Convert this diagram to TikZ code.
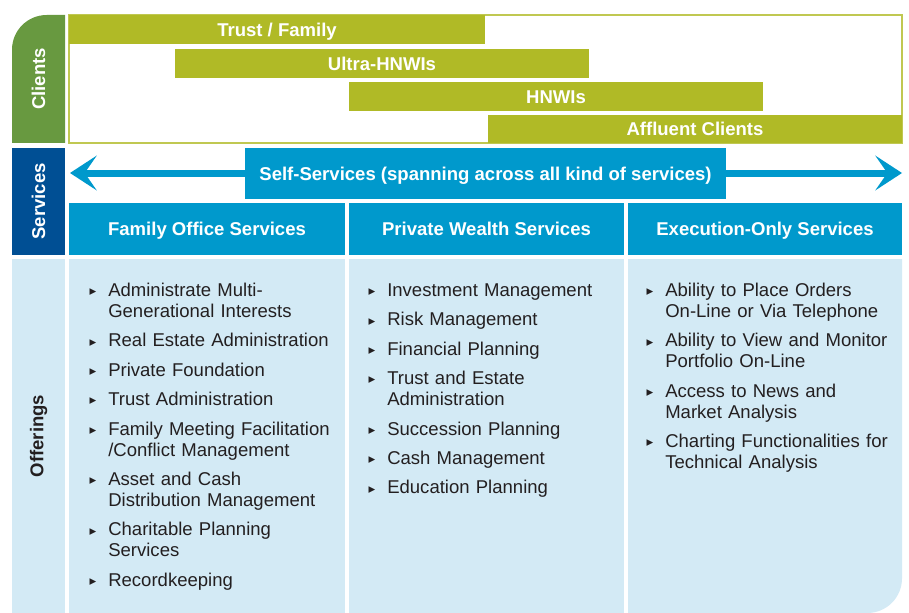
\documentclass[tikz,border=0pt]{standalone}
\usepackage{fontspec}
\setmainfont{Liberation Sans}
\newfontfamily\symfont{DejaVu Sans}
\usetikzlibrary{positioning,fit,arrows.meta}

\definecolor{clientgreen}{RGB}{104,153,64}
\definecolor{barolive}{RGB}{176,186,38}
\definecolor{servnavy}{RGB}{0,79,148}
\definecolor{servblue}{RGB}{0,153,204}
\definecolor{offerpale}{RGB}{211,234,245}
\definecolor{itemgrey}{RGB}{35,31,32}

% bullet in front of the first line of an offering
\newcommand{\offermark}{\llap{\raisebox{0.6pt}{\symfont\fontsize{10}{10}\selectfont ▸}\hspace{9pt}}}
\newcommand{\offer}[1]{\noindent\offermark\strut#1\strut}

\begin{document}
\begin{tikzpicture}[x=0.75pt,y=-0.75pt,
    boldtext/.style={font=\bfseries\fontsize{13.9}{16}\selectfont},
    tablabel/.style={boldtext,rotate=90},
    bar/.style={fill=barolive,inner sep=0pt},
    head/.style={fill=servblue,inner sep=0pt},
    inside/.style={boldtext,text=white,text height=10pt,text depth=0pt},
    column/.style={fill=offerpale,inner sep=0pt},
    item/.style={inner sep=0pt,text width=190pt,align=left,text=itemgrey,
      font=\fontsize{13.9}{15.75}\selectfont},
    spanarrow/.style={servblue,line width=5.25pt,
      {Stealth[length=20pt,width=26pt,inset=9pt]}-{Stealth[length=20pt,width=26pt,inset=9pt]}},
    node distance=5.9pt]
  \useasboundingbox (0,0) rectangle (909,613);

  % side tabs
  \fill[clientgreen] (12,143) [rounded corners=26pt] -- (12,15) [sharp corners] -- (65,15) -- (65,143) -- cycle;
  \node[tablabel,text=white] (clientstab) at (38.5,79) {Clients};
  \node[fill=servnavy,inner sep=0pt,fit={(12,148) (65,255)}] (servbox) {};
  \node[tablabel,text=white] (servtab) at (servbox.center) {Services};
  \node[column,fit={(12,259) (65,613)}] (offerbox) {};
  \node[tablabel,text=itemgrey] (offertab) at (offerbox.center) {Offerings};

  % clients
  \node[draw=barolive!80,line width=1pt,inner sep=0pt,fit={(69,15) (902,143)}] (clientframe) {};
  \node[bar,fit={(69,15) (485,44)},label={[inside]center:Trust / Family}] (trust) {};
  \node[bar,fit={(175,49) (589,78)},label={[inside]center:Ultra-HNWIs}] (ultra) {};
  \node[bar,fit={(349,82) (763,111)},label={[inside]center:HNWIs}] (hnwi) {};
  \node[bar,fit={(488,115) (902,143)},label={[inside]center:Affluent Clients}] (affluent) {};

  % services
  \coordinate (spanl) at (70,173);
  \coordinate (spanr) at (902,173);
  \draw[spanarrow] (spanl) -- (spanr);
  \node[head,fit={(245,148) (726,199)},
    label={[inside]center:Self-Services (spanning across all kind of services)}] (self) {};
  \node[head,fit={(69,203) (345,255)},label={[inside]center:Family Office Services}] (family) {};
  \node[head,fit={(349,203) (624,255)},label={[inside]center:Private Wealth Services}] (private) {};
  \node[head,fit={(628,203) (902,255)},label={[inside]center:Execution-Only Services}] (execution) {};

  % offerings
  \node[column,fit={(69,259) (345,613)}] (familycol) {};
  \node[column,fit={(349,259) (624,613)}] (privatecol) {};
  \fill[offerpale] (628,259) -- (902,259) [rounded corners=26pt] -- (902,613) [sharp corners] -- (628,613) -- cycle;

  \node[item,anchor=north west] (f1) at (108,281.5) {\offer{Administrate Multi-\\Generational Interests}};
  \node[item,below=of f1] (f2) {\offer{Real Estate Administration}};
  \node[item,below=of f2] (f3) {\offer{Private Foundation}};
  \node[item,below=of f3] (f4) {\offer{Trust Administration}};
  \node[item,below=of f4] (f5) {\offer{Family Meeting Facilitation\\/Conflict Management}};
  \node[item,below=of f5] (f6) {\offer{Asset and Cash\\Distribution Management}};
  \node[item,below=of f6] (f7) {\offer{Charitable Planning\\Services}};
  \node[item,below=of f7] (f8) {\offer{Recordkeeping}};

  \node[item,anchor=north west] (p1) at (387,281.5) {\offer{Investment Management}};
  \node[item,below=of p1] (p2) {\offer{Risk Management}};
  \node[item,below=of p2] (p3) {\offer{Financial Planning}};
  \node[item,below=of p3] (p4) {\offer{Trust and Estate\\Administration}};
  \node[item,below=of p4] (p5) {\offer{Succession Planning}};
  \node[item,below=of p5] (p6) {\offer{Cash Management}};
  \node[item,below=of p6] (p7) {\offer{Education Planning}};

  \node[item,anchor=north west] (e1) at (665,281.5) {\offer{Ability to Place Orders\\On-Line or Via Telephone}};
  \node[item,below=of e1] (e2) {\offer{Ability to View and Monitor\\Portfolio On-Line}};
  \node[item,below=of e2] (e3) {\offer{Access to News and\\Market Analysis}};
  \node[item,below=of e3] (e4) {\offer{Charting Functionalities for\\Technical Analysis}};
\end{tikzpicture}
\end{document}
